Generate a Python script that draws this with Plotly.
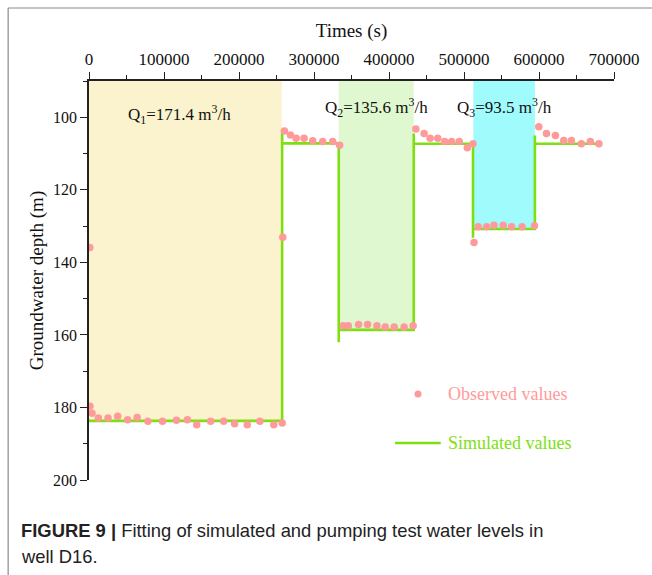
import plotly.graph_objects as go

# Observed groundwater depth during the three pumping stages and recoveries
obs_time = [1000, 1300, 4000, 12400, 25300, 38200, 51500, 64200, 78500, 98000,
            116600, 131200, 143600, 162200, 179500, 194100, 211000, 227800,
            246400, 257600, 258400, 260600, 268600, 276200, 286800, 298300,
            311600, 324900, 334200, 339100, 345700, 359400, 371400, 383900,
            394900, 406900, 420200, 432200, 435800, 446800, 454800, 465000,
            474300, 483600, 493700, 504400, 512000, 513300, 519000, 530200,
            540000, 552300, 563400, 577500, 594000, 599700, 609900, 621900,
            633000, 643200, 656500, 668400, 679900]
obs_depth = [135.9, 179.7, 181.6, 182.9, 182.9, 182.4, 183.4, 182.8, 183.8, 183.8,
             183.5, 183.4, 184.8, 183.8, 183.8, 184.5, 184.8, 183.8,
             184.8, 184.3, 133.1, 103.8, 104.9, 105.8, 105.8, 106.5,
             106.7, 106.7, 107.7, 157.5, 157.5, 157.1, 157.1, 157.5,
             157.8, 157.8, 157.8, 157.5, 103.2, 104.5, 105.8, 105.8,
             106.7, 106.7, 106.7, 108.4, 107.3, 134.5, 130.2, 130.2,
             129.8, 129.8, 130.2, 130.2, 129.9, 102.6, 104.5, 105.0,
             106.4, 106.4, 107.3, 106.7, 107.3]

# Simulated step response (with small overshoot at each switch)
sim_time = [0, 257500, 257500, 257500, 333000, 333000, 333000, 433000, 433000,
            433000, 512000, 512000, 512000, 594500, 594500, 594500, 679500]
sim_depth = [183.7, 183.7, 103.5, 107.2, 107.2, 162.0, 158.6, 158.6, 104.5,
             107.3, 107.3, 133.2, 130.8, 130.8, 105.0, 107.3, 107.3]

# Pumping stages
stage_start = [0, 333000, 512500]
stage_end = [257000, 433000, 594500]
stage_level = [183.7, 158.6, 130.8]
stage_color = ["#FAF3CD", "#DFF8D0", "#A0FBFD"]
stage_label = ["Q<sub>1</sub>=171.4 m<sup>3</sup>/h",
               "Q<sub>2</sub>=135.6 m<sup>3</sup>/h",
               "Q<sub>3</sub>=93.5 m<sup>3</sup>/h"]
label_time = [121000, 383000, 554500]
label_depth = [99.2, 97.3, 97.3]

x_ticks = [0, 100000, 200000, 300000, 400000, 500000, 600000, 700000]
y_ticks = [100, 120, 140, 160, 180, 200]

OBS_COLOR = "#FF9A9A"
SIM_COLOR = "#7EE012"
SERIF = "Liberation Serif, Times New Roman, serif"

fig = go.Figure()

fig.add_trace(go.Scatter(
    x=sim_time, y=sim_depth, mode="lines",
    line=dict(color=SIM_COLOR, width=2.6),
    name="Simulated values", showlegend=False,
))
fig.add_trace(go.Scatter(
    x=obs_time, y=obs_depth, mode="markers",
    marker=dict(color=OBS_COLOR, size=7.5, line=dict(width=0)),
    name="Observed values", showlegend=False,
))

shapes = []
for s, e, lv, c in zip(stage_start, stage_end, stage_level, stage_color):
    shapes.append(dict(type="rect", xref="x", yref="y", x0=s, x1=e, y0=90, y1=lv,
                       fillcolor=c, line=dict(width=0), layer="below"))

# Hand-drawn legend glyphs
shapes.append(dict(type="circle", xref="paper", yref="paper",
                   x0=0.6267 - 0.0067, x1=0.6267 + 0.0067,
                   y0=0.2155 - 0.0088, y1=0.2155 + 0.0088,
                   fillcolor=OBS_COLOR, line=dict(width=0)))
shapes.append(dict(type="line", xref="paper", yref="paper",
                   x0=0.583, x1=0.670, y0=0.0927, y1=0.0927,
                   line=dict(color=SIM_COLOR, width=2.6)))

# Figure frame
shapes.append(dict(type="line", xref="paper", yref="paper",
                   x0=-0.154, x1=1.08, y0=1.183, y1=1.183,
                   line=dict(color="#8a8a8a", width=1.2)))
shapes.append(dict(type="line", xref="paper", yref="paper",
                   x0=-0.154, x1=-0.154, y0=1.183, y1=-0.25,
                   line=dict(color="#8a8a8a", width=1.2)))

annotations = []
for t, d, txt in zip(label_time, label_depth, stage_label):
    annotations.append(dict(x=t, y=d, xref="x", yref="y", text=txt, showarrow=False,
                            xanchor="center", yanchor="middle",
                            font=dict(family=SERIF, size=17, color="#111111")))

annotations.append(dict(x=0.680, y=0.2155, xref="paper", yref="paper",
                        text="Observed values", showarrow=False,
                        xanchor="left", yanchor="middle",
                        font=dict(family=SERIF, size=18, color=OBS_COLOR)))
annotations.append(dict(x=0.680, y=0.0927, xref="paper", yref="paper",
                        text="Simulated values", showarrow=False,
                        xanchor="left", yanchor="middle",
                        font=dict(family=SERIF, size=18, color=SIM_COLOR)))

CAP = "Liberation Sans, Arial, sans-serif"
annotations.append(dict(
    x=-0.1333, y=-0.1278, xref="paper", yref="paper",
    text="<b>FIGURE 9 |</b> Fitting of simulated and pumping test water levels in",
    showarrow=False, xanchor="left", yanchor="middle",
    font=dict(family=CAP, size=18.4, color="#222222")))
annotations.append(dict(x=-0.1333, y=-0.1905, xref="paper", yref="paper",
                        text="well D16.", showarrow=False, xanchor="left",
                        yanchor="middle",
                        font=dict(family=CAP, size=18.4, color="#222222")))

fig.update_layout(
    width=652, height=575,
    margin=dict(l=89, r=38, t=81, b=95),
    paper_bgcolor="white", plot_bgcolor="white",
    showlegend=False,
    shapes=shapes, annotations=annotations,
    font=dict(family=SERIF, color="#111111"),
)

fig.update_xaxes(
    side="top", range=[0, 700000], tickvals=x_ticks,
    ticktext=[str(v) for v in x_ticks],
    ticks="outside", ticklen=7, tickwidth=1.3, tickcolor="#222",
    minor=dict(dtick=50000, ticks="outside", ticklen=4, tickwidth=1.2, tickcolor="#222"),
    showline=True, linecolor="#222", linewidth=1.5,
    showgrid=False, zeroline=False,
    tickfont=dict(family=SERIF, size=17, color="#111"),
    title=dict(text="Times (s)", font=dict(family=SERIF, size=19, color="#111"), standoff=8),
)
fig.update_yaxes(
    range=[200, 90], tickvals=y_ticks,
    ticks="outside", ticklen=7, tickwidth=1.3, tickcolor="#222",
    minor=dict(dtick=10, ticks="outside", ticklen=4, tickwidth=1.2, tickcolor="#222"),
    showline=True, linecolor="#222", linewidth=1.5,
    showgrid=False, zeroline=False,
    tickfont=dict(family=SERIF, size=16, color="#111"),
    title=dict(text="Groundwater depth (m)", font=dict(family=SERIF, size=19, color="#111"),
               standoff=4),
)

fig.write_html("out.html")
